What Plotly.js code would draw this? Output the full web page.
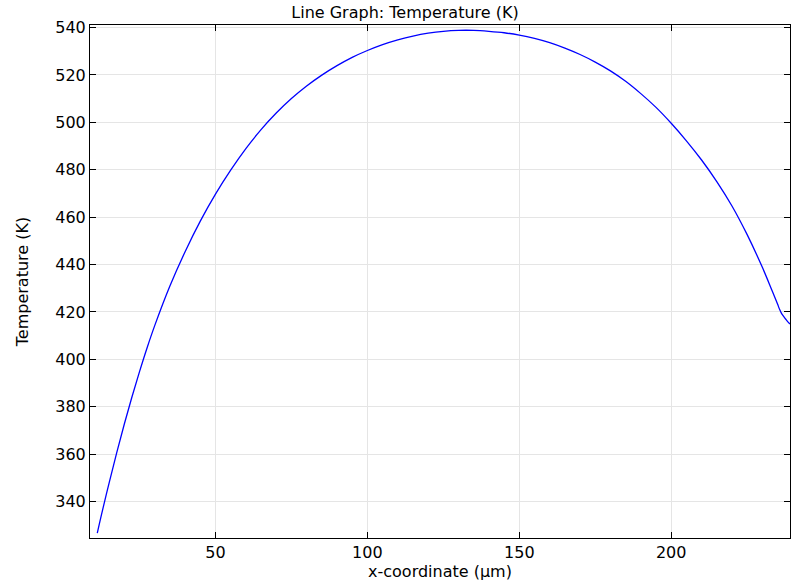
<!DOCTYPE html>
<html>
<head>
<meta charset="utf-8">
<script src="https://cdn.plot.ly/plotly-3.0.1.min.js"></script>
<style>html,body{margin:0;padding:0;background:#fff;}#chart{width:791px;height:583px;}</style>
</head>
<body>
<div id="chart"></div>
<script>
// x-coordinate (µm)
const xCoord = [11.1, 12.5, 15, 17.5, 20, 22.5, 25, 27.5, 30, 35, 40, 45, 50, 55, 60, 65, 70, 75, 80, 85,
  90, 95, 100, 105, 110, 115, 120, 125, 130, 135, 140, 145, 150, 155, 160, 165, 170, 175, 180, 185,
  190, 195, 200, 205, 210, 215, 220, 225, 230, 233, 235, 235.7, 236.3, 237, 237.7, 238.4, 239.1];
// Temperature (K)
const temperature = [326.7, 334.6, 347.9, 360.6, 372.7, 384.1, 394.8, 404.9, 414.2, 430.9, 445.4, 458.3, 469.7, 479.8, 488.9, 496.9, 503.9, 510.0, 515.3, 519.9,
  523.9, 527.4, 530.3, 532.8, 534.8, 536.4, 537.6, 538.4, 538.8, 538.8, 538.4, 537.8, 536.8, 535.4, 533.6, 531.3, 528.6, 525.4, 521.7, 517.3,
  512.1, 506.3, 499.6, 492.2, 484.1, 475.0, 464.7, 452.6, 438.8, 429.6, 423.3, 421.0, 419.4, 418.1, 416.9, 415.8, 414.9];

const xTicks = [50, 100, 150, 200];
const yTicks = [340, 360, 380, 400, 420, 440, 460, 480, 500, 520, 540];

const font = {family: 'DejaVu Sans, sans-serif', size: 16, color: '#000'};

const trace = {
  x: xCoord, y: temperature, type: 'scatter', mode: 'lines',
  line: {color: '#0000ff', width: 1.3, shape: 'spline', smoothing: 1},
  hoverinfo: 'skip'
};

const axisCommon = {
  showline: true, linecolor: '#000', linewidth: 1, mirror: 'ticks',
  ticks: 'inside', ticklen: 6, tickwidth: 1, tickcolor: '#000',
  showgrid: true, gridcolor: '#e5e5e5', gridwidth: 1, zeroline: false,
  tickfont: font
};

const layout = {
  width: 791, height: 583,
  margin: {l: 90, r: 1, t: 25, b: 45},
  paper_bgcolor: '#fff', plot_bgcolor: '#fff',
  font: font,
  showlegend: false,
  title: {text: 'Line Graph: Temperature (K)', font: {family: font.family, size: 16, color: '#000'},
          x: 0.512, xref: 'container', xanchor: 'center', y: 0.979, yref: 'container', yanchor: 'middle'},
  xaxis: Object.assign({}, axisCommon, {
    range: [8.7, 239.1], tickvals: xTicks, ticktext: xTicks.map(String),
    title: {text: 'x-coordinate (µm)', font: font, standoff: 0}
  }),
  yaxis: Object.assign({}, axisCommon, {
    range: [324.6, 541.06], tickvals: yTicks, ticktext: yTicks.map(String),
    title: {text: 'Temperature (K)', font: font, standoff: 22}
  })
};

Plotly.newPlot('chart', [trace], layout, {displayModeBar: false, staticPlot: true});
</script>
</body>
</html>
